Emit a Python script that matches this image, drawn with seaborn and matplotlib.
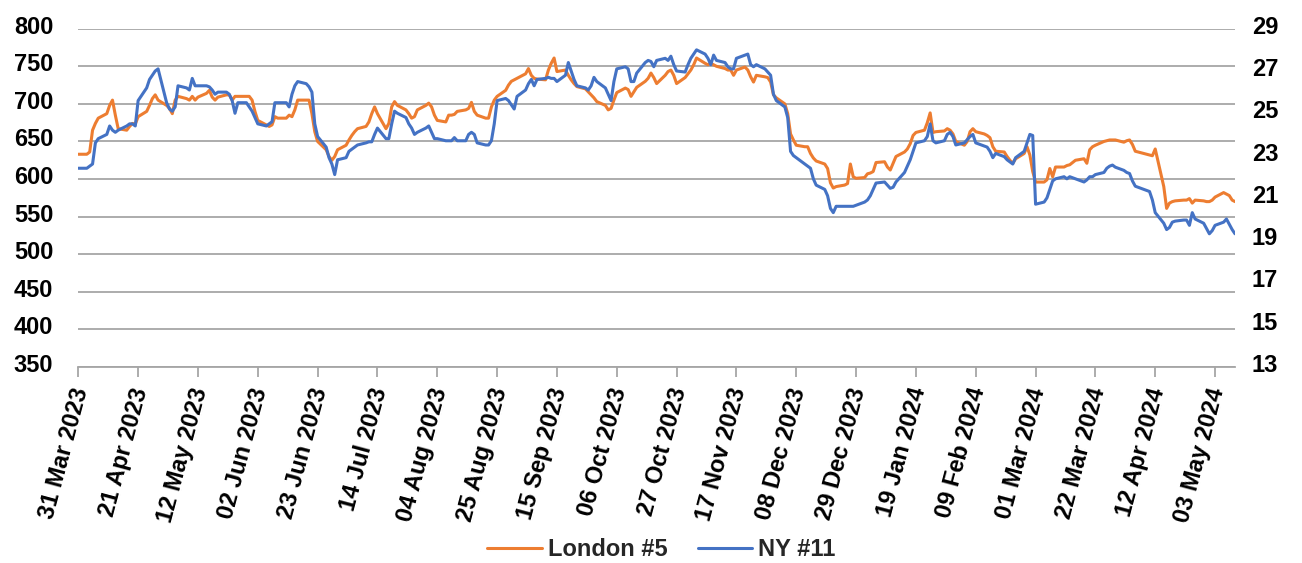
import numpy as np
import pandas as pd
import matplotlib
matplotlib.use("Agg")
import matplotlib.pyplot as plt
import matplotlib.transforms as mtransforms
from matplotlib.ticker import MultipleLocator
import seaborn as sns

# ---------------- data (business days from 31 Mar 2023) ----------------
start_date = "2023-03-31"

tick_labels = ["31 Mar 2023", "21 Apr 2023", "12 May 2023", "02 Jun 2023",
               "23 Jun 2023", "14 Jul 2023", "04 Aug 2023", "25 Aug 2023",
               "15 Sep 2023", "06 Oct 2023", "27 Oct 2023", "17 Nov 2023",
               "08 Dec 2023", "29 Dec 2023", "19 Jan 2024", "09 Feb 2024",
               "01 Mar 2024", "22 Mar 2024", "12 Apr 2024", "03 May 2024"]
x_end = "2024-05-10"

# London #5 (left axis, USD/t)
london = [
    633, 633, 636, 665, 674, 681, 687, 698, 705, 685, 667, 665, 670, 674, 673,
    683, 690, 698, 707, 712, 705, 698, 694, 687, 705, 710, 707, 705, 710, 705,
    709, 714, 718, 709, 705, 709, 712, 712, 705, 710, 710, 710, 710, 705, 690,
    678, 672, 670, 672, 683, 681, 681, 685, 683, 692, 705, 705, 705, 687, 663,
    650, 639, 630, 625, 630, 639, 645, 652, 658, 663, 667, 670, 676, 687, 696,
    687, 667, 674, 696, 703, 698, 692, 687, 681, 683, 692, 698, 701, 696, 685,
    678, 676, 685, 685, 686, 690, 692, 694, 702, 690, 685, 681, 681, 696, 705,
    710, 718, 725, 730, 732, 734, 740, 747, 738, 734, 733, 732, 745, 754, 761,
    743, 745, 738, 732, 727, 723, 720, 716, 712, 708, 703, 698, 692, 694, 705,
    715, 721, 719, 710, 716, 722, 730, 734, 741, 735, 727, 738, 743, 745, 738,
    727, 735, 740, 745, 752, 761, 754, 752, 754, 752, 750, 747, 745, 745, 738,
    745, 749, 745, 736, 729, 738, 736, 735, 729, 712, 708, 700, 687, 660, 652,
    645, 643, 643, 634, 628, 624, 620, 614, 595, 588, 590, 592, 594, 620, 603,
    601, 602, 607, 608, 610, 622, 623, 616, 612, 621, 630, 636, 640, 647, 658,
    662, 665, 675, 688, 662, 663, 664, 667, 665, 660, 650, 645, 650, 663, 667,
    663, 660, 658, 655, 643, 637, 636, 630, 625, 621, 627, 634, 643, 632, 610,
    596, 596, 599, 614, 603, 616, 616, 618, 619, 622, 625, 627, 621, 639, 643,
    645, 650, 651, 652, 652, 652, 649, 651, 652, 646, 637, 634, 633, 632, 631,
    640, 590, 561, 568, 570, 571, 572, 572, 574, 568, 572, 571, 570, 570, 572,
    576, 582, 580, 578, 572, 570,
]

# NY #11 (right axis, USc/lb)
ny = [
    22.4, 22.4, 22.5, 22.6, 23.6, 23.8, 24.0, 24.4, 24.2, 24.1, 24.2, 24.4, 24.5, 24.5, 24.4,
    25.6, 26.2, 26.6, 26.8, 27.0, 27.1, 25.5, 25.2, 25.1, 25.3, 26.3, 26.2, 26.1, 26.65, 26.3,
    26.3, 26.3, 26.25, 26.1, 25.9, 26.0, 26.0, 25.9, 25.6, 25.0, 25.5, 25.5, 25.3, 25.1, 24.8,
    24.5, 24.4, 24.5, 24.6, 25.5, 25.5, 25.5, 25.3, 25.9, 26.3, 26.5, 26.4, 26.25, 26.0, 24.5,
    23.9, 23.4, 22.9, 22.6, 22.1, 22.8, 22.9, 23.2, 23.3, 23.4, 23.5, 23.6, 23.65, 23.65, 24.0,
    24.3, 23.8, 23.8, 24.5, 25.1, 25.0, 24.8, 24.5, 24.3, 24.0, 24.1, 24.3, 24.4, 24.1, 23.8,
    23.8, 23.7, 23.7, 23.7, 23.85, 23.7, 23.7, 24.0, 24.1, 24.0, 23.6, 23.5, 23.5, 23.7, 24.5,
    25.6, 25.7, 25.6, 25.4, 25.2, 25.8, 26.1, 26.4, 26.6, 26.3, 26.6, 26.65, 26.7, 26.65, 26.65,
    26.5, 26.8, 27.4, 27.0, 26.6, 26.3, 26.2, 26.1, 26.3, 26.7, 26.5, 26.2, 25.9, 25.6, 26.5,
    27.1, 27.2, 27.1, 26.5, 26.5, 26.9, 27.4, 27.5, 27.45, 27.2, 27.5, 27.6, 27.5, 27.7, 27.3,
    27.0, 26.95, 27.3, 27.6, 27.8, 28.0, 27.8, 27.6, 27.3, 27.75, 27.5, 27.4, 27.2, 27.1, 27.1,
    27.6, 27.75, 27.8, 27.3, 27.2, 27.3, 27.1, 26.95, 26.8, 25.9, 25.6, 25.3, 24.8, 23.2, 23.0,
    22.9, 22.6, 22.5, 22.4, 21.9, 21.6, 21.4, 21.1, 20.5, 20.3, 20.6, 20.6, 20.6, 20.6, 20.6,
    20.65, 20.8, 20.9, 21.1, 21.4, 21.7, 21.75, 21.6, 21.45, 21.5, 21.75, 22.2, 22.5, 22.8, 23.2,
    23.6, 23.7, 23.9, 24.5, 23.7, 23.6, 23.7, 24.0, 24.1, 23.9, 23.5, 23.6, 23.75, 23.9, 24.0,
    23.6, 23.45, 23.4, 23.2, 22.9, 23.1, 22.95, 22.8, 22.7, 22.6, 22.9, 23.2, 23.6, 24.0, 23.95,
    20.7, 20.8, 21.0, 21.4, 21.8, 21.9, 22.0, 21.9, 22.0, 21.95, 21.9, 21.75, 21.85, 22.0, 22.0,
    22.1, 22.2, 22.4, 22.5, 22.55, 22.45, 22.3, 22.2, 22.15, 21.8, 21.55, 21.4, 21.35, 21.3, 20.9,
    20.3, 19.8, 19.5, 19.6, 19.85, 19.9, 19.95, 19.95, 19.7, 20.3, 20.0, 19.8, 19.55, 19.3, 19.45,
    19.7, 19.85, 20.0, 19.75, 19.5, 19.3,
]

left_ticks = list(range(350, 801, 50))
right_ticks = list(range(13, 30, 2))

# ---------------- styling ----------------
ORANGE = "#ED7D31"
BLUE = "#4472C4"
GRID = "#A6A6A6"

sns.set_style("white")
plt.rcParams["font.family"] = ["Liberation Sans", "DejaVu Sans"]
plt.rcParams["font.weight"] = "bold"

n = min(len(london), len(ny))
dates = pd.bdate_range(start_date, periods=n)
df = pd.DataFrame({"date": dates, "London #5": london[:n], "NY #11": ny[:n]})

fig = plt.figure(figsize=(13.02, 5.63), dpi=100)
L, R, T, B = 78.3, 1235.0, 28.7, 367.0
W, H = 1302.0, 563.0
ax = fig.add_axes([L / W, 1 - B / H, (R - L) / W, (B - T) / H])

sns.lineplot(data=df, x="date", y="London #5", ax=ax, color=ORANGE,
             linewidth=2.2, legend=False)
ax2 = ax.twinx()
sns.lineplot(data=df, x="date", y="NY #11", ax=ax2, color=BLUE,
             linewidth=2.2, legend=False)

tick_dates = pd.to_datetime(tick_labels, format="%d %b %Y")
ax.set_xlim(tick_dates[0], pd.Timestamp(x_end))
ax.set_xticks(tick_dates)
ax.set_xticklabels(tick_labels, rotation=75, ha="right", va="center",
                   rotation_mode="anchor")

ax.set_ylim(left_ticks[0], left_ticks[-1])
ax.set_yticks(left_ticks)
ax2.set_ylim(right_ticks[0], right_ticks[-1])
ax2.set_yticks(right_ticks)

for a in (ax, ax2):
    a.set_xlabel("")
    a.set_ylabel("")
    for s in ("top", "left", "right"):
        a.spines[s].set_visible(False)
ax2.spines["bottom"].set_visible(False)
ax.spines["bottom"].set_color(GRID)
ax.spines["bottom"].set_linewidth(1.3)

ax.yaxis.grid(True, color=GRID, linewidth=1.3)
ax.xaxis.grid(False)
ax2.grid(False)
ax.set_axisbelow(True)

ax.tick_params(axis="x", bottom=True, length=7.2, width=1.3, color=GRID,
               direction="out", pad=8, labelsize=17, labelcolor="black")
ax.tick_params(axis="y", left=False, length=0, pad=18, labelsize=17,
               labelcolor="black")
ax2.tick_params(axis="y", right=False, length=0, pad=12, labelsize=17,
                labelcolor="black")

# small label offsets to match the reference placement
up = mtransforms.ScaledTranslation(0, 0.04, fig.dpi_scale_trans)
for lab in ax.get_yticklabels() + ax2.get_yticklabels():
    lab.set_transform(lab.get_transform() + up)
right_shift = mtransforms.ScaledTranslation(0.03, 0, fig.dpi_scale_trans)
for lab in ax.get_xticklabels():
    lab.set_transform(lab.get_transform() + right_shift)

handles = [ax.get_lines()[0], ax2.get_lines()[0]]
fig.legend(handles, ["London #5", "NY #11"], loc="center",
           bbox_to_anchor=(0.508, 0.024), ncol=2, frameon=False,
           fontsize=17, handlelength=2.3, handletextpad=0.25,
           columnspacing=1.3)

fig.savefig("out.png", dpi=100)
